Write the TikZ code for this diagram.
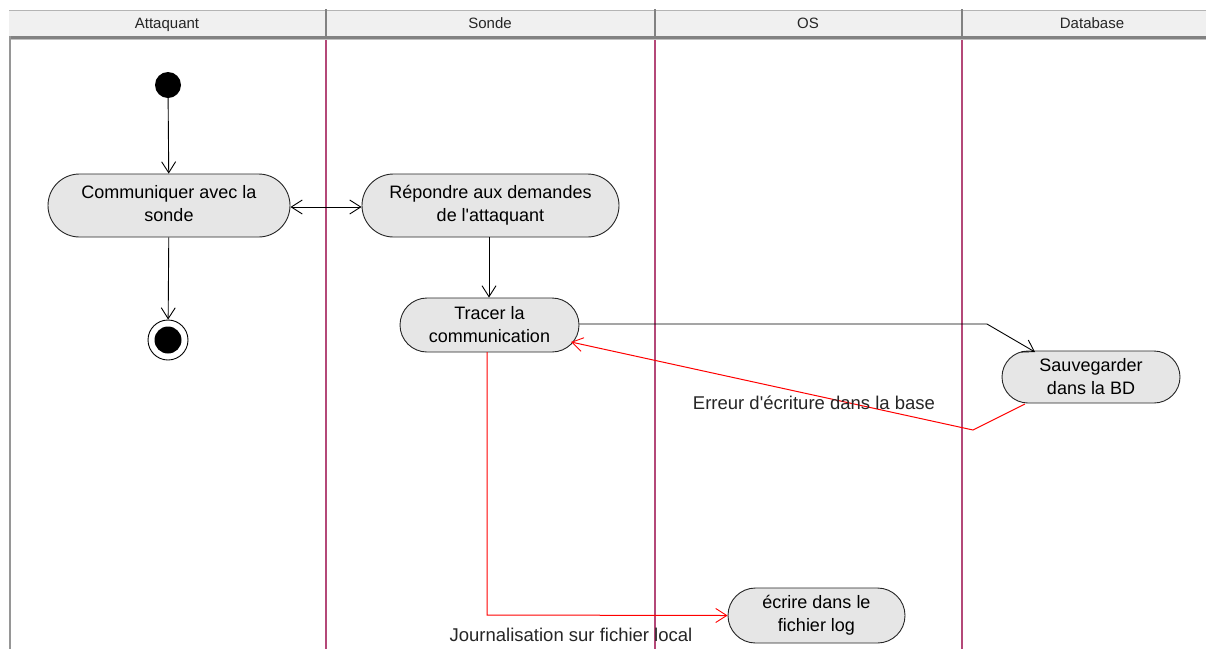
\documentclass[tikz,border=0pt]{standalone}
\usepackage{fontspec}
\setmainfont{Liberation Sans}
\usetikzlibrary{shapes.misc,arrows.meta}
\definecolor{lane}{RGB}{180,72,120}
\definecolor{actfill}{RGB}{230,230,230}
\definecolor{hdrfill}{RGB}{240,240,240}
\definecolor{hdrline}{RGB}{130,130,130}
\definecolor{frame}{RGB}{150,150,150}
% two-line caption lifted a little inside tall activities
\newcommand{\liftedlines}[2]{\raisebox{4pt}{\begin{tabular}{@{}c@{}}#1\\#2\end{tabular}}}
\begin{document}
\begin{tikzpicture}[x=1pt,y=-1pt,
  activity/.style={rounded rectangle, draw=black!85, fill=actfill, line width=0.9pt,
    align=center, font=\fontsize{18}{23}\selectfont, inner sep=0pt},
  lanehead/.style={font=\fontsize{15}{17}\selectfont, text=black!85, anchor=base},
  lanesep/.style={draw=lane, line width=1.1pt},
  flow/.style={draw=black, line width=0.9pt, -{Straight Barb[length=11pt,width=14pt,line width=0.9pt]}},
  errflow/.style={draw=red, line width=1pt, -{Straight Barb[length=11pt,width=14pt,line width=0.9pt]}},
  flowlabel/.style={font=\fontsize{18.5}{21}\selectfont, text=black!85, inner sep=0pt}
]
\useasboundingbox (0,0) rectangle (1206,649);
\fill[white] (0,0) rectangle (1206,649);

% swimlane header
\fill[hdrfill] (9,10) rectangle (1206,36);
\draw[hdrline!60, line width=0.8pt] (9,10.5) -- (1206,10.5);
\draw[hdrline, line width=2.2pt] (9,37.5) -- (1206,37.5);
\draw[hdrline!50, line width=1pt] (9,39.8) -- (1206,39.8);
\foreach \x in {326,655,962}
  \draw[hdrline, line width=1.6pt] (\x,9) -- (\x,36);
\node[lanehead] (hA) at (167,28.5) {Attaquant};
\node[lanehead] (hS) at (490,28.5) {Sonde};
\node[lanehead] (hO) at (808,28.5) {OS};
\node[lanehead] (hD) at (1092,28.5) {Database};

% frame and lane separators
\draw[frame, line width=2.6pt] (10,36) -- (10,649);
\foreach \x in {326,655,962}
  \draw[lanesep] (\x,40) -- (\x,649);

% start and end states
\node[circle, fill=black, minimum size=26pt, inner sep=0pt] (start) at (168,85) {};
\node[circle, draw=black, line width=0.9pt, fill=white, minimum size=40pt, inner sep=0pt] (endring) at (168,340) {};
\node[circle, fill=black, minimum size=27pt, inner sep=0pt] (end) at (168,340) {};

% activities
\node[activity, minimum width=242pt, minimum height=63pt] (comm) at (169,205.5) {\liftedlines{Communiquer avec la}{sonde}};
\node[activity, minimum width=257pt, minimum height=63pt] (rep) at (490.5,205.5) {\liftedlines{Répondre aux demandes}{de l\textquotesingle attaquant}};
\node[activity, minimum width=179pt, minimum height=54pt] (trace) at (489.5,325) {Tracer la\\communication};
\node[activity, minimum width=178pt, minimum height=52pt] (save) at (1091,377) {Sauvegarder\\dans la BD};
\node[activity, minimum width=177pt, minimum height=55pt] (log) at (816.5,615.5) {écrire dans le\\fichier log};

% transitions
\draw[flow] (start) -- (comm);
\draw[flow, {Straight Barb[length=11pt,width=14pt,line width=0.9pt]}-{Straight Barb[length=11pt,width=14pt,line width=0.9pt]}] (comm.east |- 0,207) -- (rep.west |- 0,207);
\draw[flow] (comm) -- (endring);
\draw[flow] (rep.south -| 489,0) -- (trace.north -| 489,0);
\coordinate (bend) at (987,324);
\draw[flow] (trace.east |- 0,324) -- (bend) -- (1035,352);
\coordinate (errturn) at (973,430);
\draw[errflow] (1025,404) -- (errturn) -- (571,342);
\node[flowlabel] (errlbl) at (814,403) {Erreur d\textquotesingle écriture dans la base};
\coordinate (logturn) at (487,615);
\draw[errflow] (487,352) -- (logturn) -- (log.west);
\node[flowlabel] (loglbl) at (571,635) {Journalisation sur fichier local};
\end{tikzpicture}
\end{document}
